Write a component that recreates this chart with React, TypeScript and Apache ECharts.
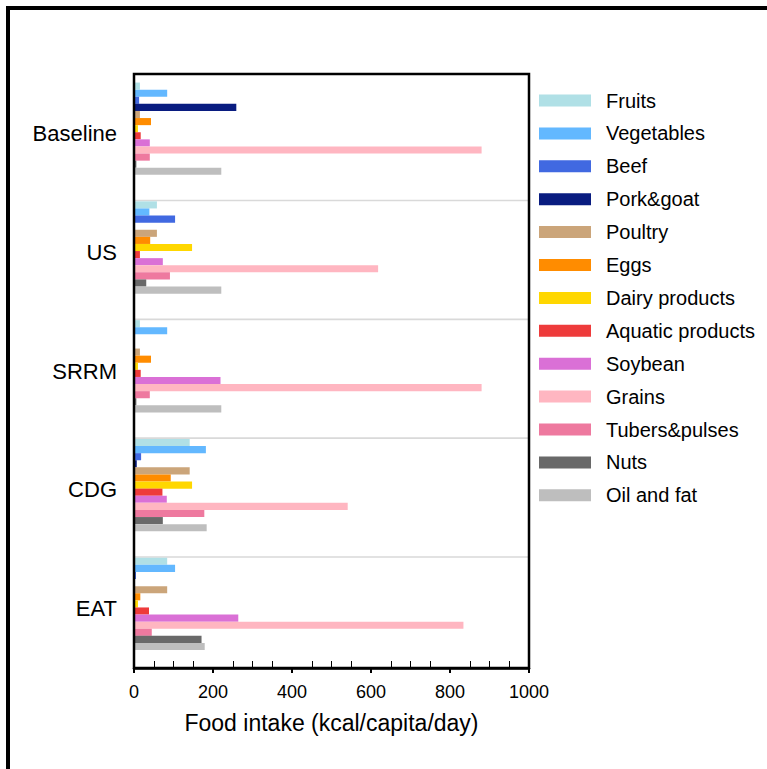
import React, { useEffect, useRef } from "react";
import * as echarts from "echarts";

const scenarios = ["Baseline", "US", "SRRM", "CDG", "EAT"];
const foodGroups = [
  "Fruits",
  "Vegetables",
  "Beef",
  "Pork&goat",
  "Poultry",
  "Eggs",
  "Dairy products",
  "Aquatic products",
  "Soybean",
  "Grains",
  "Tubers&pulses",
  "Nuts",
  "Oil and fat",
];
const groupColors = [
  "#B0E0E6",
  "#63B8FF",
  "#4169E1",
  "#091C80",
  "#CBA57A",
  "#FF8C00",
  "#FFD700",
  "#EE3B3B",
  "#DA70D6",
  "#FFB6C1",
  "#EE799F",
  "#696969",
  "#BEBEBE",
];

// values per scenario, order: Baseline, US, SRRM, CDG, EAT
const fruits = [15, 58, 15, 141, 84];
const vegetables = [84, 39, 84, 182, 104];
const beef = [13, 104, 0, 18, 5];
const porkGoat = [259, 0, 0, 7, 0];
const poultry = [15, 58, 15, 141, 84];
const eggs = [43, 41, 43, 93, 16];
const dairy = [10, 147, 10, 147, 10];
const aquatic = [17, 15, 17, 72, 38];
const soybean = [40, 73, 219, 83, 264];
const grains = [880, 618, 880, 541, 834];
const tubers = [40, 91, 40, 178, 45];
const nuts = [6, 31, 6, 73, 171];
const oilFat = [221, 221, 221, 184, 179];

const seriesValues = [
  fruits,
  vegetables,
  beef,
  porkGoat,
  poultry,
  eggs,
  dairy,
  aquatic,
  soybean,
  grains,
  tubers,
  nuts,
  oilFat,
];

const xTicks = [0, 200, 400, 600, 800, 1000];
const xMin = 0;
const xMax = 1000;

const W = 767;
const H = 769;
const GRID = { left: 134, right: 238, top: 74, bottom: 101 };

export default function App() {
  const ref = useRef<HTMLDivElement>(null);

  useEffect(() => {
    if (!ref.current) return;
    const chart = echarts.init(ref.current, null, { renderer: "svg" });
    const font = "Liberation Sans, Arial, Helvetica, sans-serif";

    const separatorSeries = {
      name: "sep",
      type: "bar",
      barWidth: 1.6,
      barGap: "0%",
      silent: true,
      itemStyle: { color: "#D9D9D9" },
      data: scenarios.map((_, i) => (i === 0 ? "-" : xMax)),
      z: 1,
    };

    const foodSeries = foodGroups.map((name, i) => ({
      name,
      type: "bar",
      barWidth: 7.1,
      barGap: "0%",
      itemStyle: { color: groupColors[i] },
      data: seriesValues[i].map((v) => (v === 0 ? "-" : v)),
      z: 2,
    }));

    const spacerSeries = {
      name: "spacer",
      type: "bar",
      barWidth: 11,
      barGap: "0%",
      silent: true,
      itemStyle: { color: "rgba(255,255,255,0)" },
      data: scenarios.map(() => "-"),
    };

    chart.setOption({
      animation: false,
      textStyle: { fontFamily: font },
      grid: {
        ...GRID,
        show: false,
      },
      legend: {
        data: foodGroups,
        orient: "vertical",
        left: 539,
        top: 90.5,
        padding: 0,
        itemWidth: 52,
        itemHeight: 12,
        itemGap: 12.9,
        icon: "rect",
        selectedMode: false,
        textStyle: {
          fontSize: 20,
          lineHeight: 20,
          color: "#000",
          fontFamily: font,
          padding: [0, 0, 0, 10],
        },
      },
      xAxis: {
        type: "value",
        min: xMin,
        max: xMax,
        interval: xTicks[1] - xTicks[0],
        name: "Food intake (kcal/capita/day)",
        nameLocation: "middle",
        nameGap: 43,
        nameTextStyle: { fontSize: 23, color: "#000", fontFamily: font },
        axisLine: { show: true, lineStyle: { color: "#000", width: 2.5 } },
        axisTick: {
          show: true,
          inside: false,
          length: 5,
          lineStyle: { color: "#000", width: 2 },
        },
        minorTick: {
          show: true,
          splitNumber: 4,
          length: -7,
          lineStyle: { color: "#000", width: 1 },
        },
        axisLabel: {
          fontSize: 18,
          color: "#000",
          margin: 15,
          fontFamily: font,
          showMinLabel: true,
          showMaxLabel: true,
          formatter: (v: number) => String(v),
        },
        splitLine: { show: false },
        minorSplitLine: { show: false },
      },
      yAxis: {
        type: "category",
        inverse: true,
        data: scenarios,
        axisLine: { show: false },
        axisTick: { show: false },
        splitLine: { show: false },
        axisLabel: {
          fontSize: 22,
          color: "#000",
          margin: 17,
          fontFamily: font,
        },
      },
      graphic: [
        {
          type: "rect",
          silent: true,
          z: 100,
          shape: {
            x: GRID.left,
            y: GRID.top,
            width: W - GRID.left - GRID.right,
            height: H - GRID.top - GRID.bottom,
          },
          style: { fill: "none", stroke: "#000", lineWidth: 2.5 },
        },
        {
          type: "rect",
          silent: true,
          z: 100,
          shape: { x: 8, y: 8, width: 900, height: 900 },
          style: { fill: "none", stroke: "#000", lineWidth: 4 },
        },
      ],
      series: [separatorSeries, ...foodSeries, spacerSeries],
    });

    return () => {
      chart.dispose();
    };
  }, []);

  return (
    <div
      ref={ref}
      style={{ position: "fixed", left: 0, top: 0, width: W, height: H, background: "#fff" }}
    />
  );
}
